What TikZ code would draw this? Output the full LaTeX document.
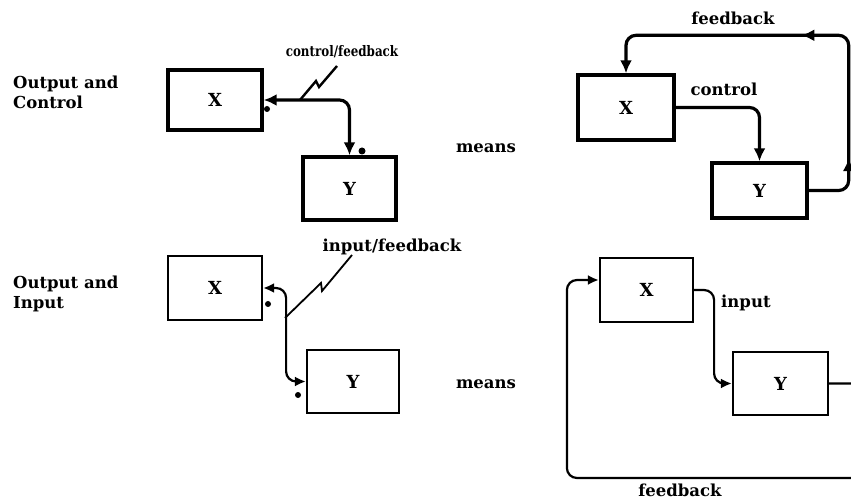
\documentclass[tikz,border=0pt]{standalone}
\usepackage{fontspec}
\setmainfont{DejaVu Serif}
\usetikzlibrary{arrows.meta,decorations.markings,calc}
\tikzset{
  tipA/.tip={Latex[length=13pt,width=12pt]},
  tipB/.tip={Latex[length=11pt,width=10pt]},
  boxA/.style={draw,line width=3.4pt,inner sep=0pt,font=\bfseries\fontsize{18}{18}\selectfont},
  boxB/.style={draw,line width=2.2pt,inner sep=0pt,font=\bfseries\fontsize{18}{18}\selectfont},
  connA/.style={line width=3.2pt,rounded corners=10pt},
  connB/.style={line width=2.2pt,rounded corners=10pt},
  bolt/.style={line width=2.4pt,line join=miter},
  dotm/.style={circle,fill,inner sep=0pt,minimum size=6pt},
  lblA/.style={font=\bfseries\fontsize{14.5}{16}\selectfont,inner sep=0pt},
  lblB/.style={font=\bfseries\fontsize{16.5}{20}\selectfont,inner sep=0pt},
}
\begin{document}
\begin{tikzpicture}[x=1pt,y=-1pt]
\useasboundingbox (0,0) rectangle (851,502);
\clip (0,0) rectangle (851,502);
% left labels
\node[lblB,anchor=north west,align=left] (lOC) at (13,76) {Output and\\Control};
\node[lblB,anchor=north west,align=left] (lOI) at (13,276) {Output and\\Input};
% boxes
\node[boxA,minimum width=94pt,minimum height=60pt] (X1) at (215,100) {X};
\node[boxA,minimum width=93pt,minimum height=63pt] (Y1) at (349.5,188.5) {Y};
\node[boxA,minimum width=96pt,minimum height=65pt] (X2) at (626,107.5) {X};
\node[boxA,minimum width=95pt,minimum height=55pt] (Y2) at (759.5,190.5) {Y};
\node[boxB,minimum width=94pt,minimum height=64pt] (X3) at (215,288) {X};
\node[boxB,minimum width=92pt,minimum height=63pt] (Y3) at (353,381.5) {Y};
\node[boxB,minimum width=93pt,minimum height=64pt] (X4) at (646.5,290) {X};
\node[boxB,minimum width=95pt,minimum height=63pt] (Y4) at (780.5,383.5) {Y};
% labels
\node[lblA] (tcf) at (342,52) {\scalebox{0.82}[1]{control/feedback}};
\node[lblB] (m1) at (486,148) {means};
\node[lblB] (m2) at (486,384) {means};
\node[lblB] (tfb) at (733,18) {feedback};
\node[lblB] (tc) at (724,89) {control};
\node[lblB] (tif) at (392,247) {input/feedback};
\node[lblB,anchor=west] (ti) at (721,303) {input};
\node[lblB] (tfb2) at (680,490) {feedback};
% top-left connector
\draw[connA,{tipA}-{tipA}] (X1.east) -| (Y1.north);
\coordinate (b1) at (300,100);
\draw[bolt] (b1) -- (316,81) -- (319,87) -- (337,66);
\node[dotm] (d1) at (267,109) {};
\node[dotm,minimum size=7pt] (d2) at (362,151) {};
% top-right
\draw[connA,-{tipA}] (X2.east) -| (Y2.north);
\draw[connA,-{tipA},postaction={decorate},
  decoration={markings,
    mark=at position 68pt with {\arrow{tipA}},
    mark=at position 234pt with {\arrow{tipA}}}]
  (Y2.east) -- ++(40,0) |- ($(X2.north)+(0,-38)$) -- (X2.north);
% bottom-left
\draw[connB,{tipB}-{tipB}] (X3.east) -- ++(23,0) |- (Y3.west);
\coordinate (b2) at (285,318);
\draw[bolt,line width=1.8pt] (b2) -- (321,283) -- (322,291) -- (352,255);
\node[dotm] (d3) at (268,304) {};
\node[dotm] (d4) at (298,395) {};
% bottom-right
\draw[connB,-{tipB}] (X4.east) -- ++(20,0) |- (Y4.west);
\draw[connB,-{tipB}] (Y4.east) -- ++(45,0) |- ($(X4.west)+(-32,188)$) |- ([yshift=10pt]X4.west);
\end{tikzpicture}
\end{document}
